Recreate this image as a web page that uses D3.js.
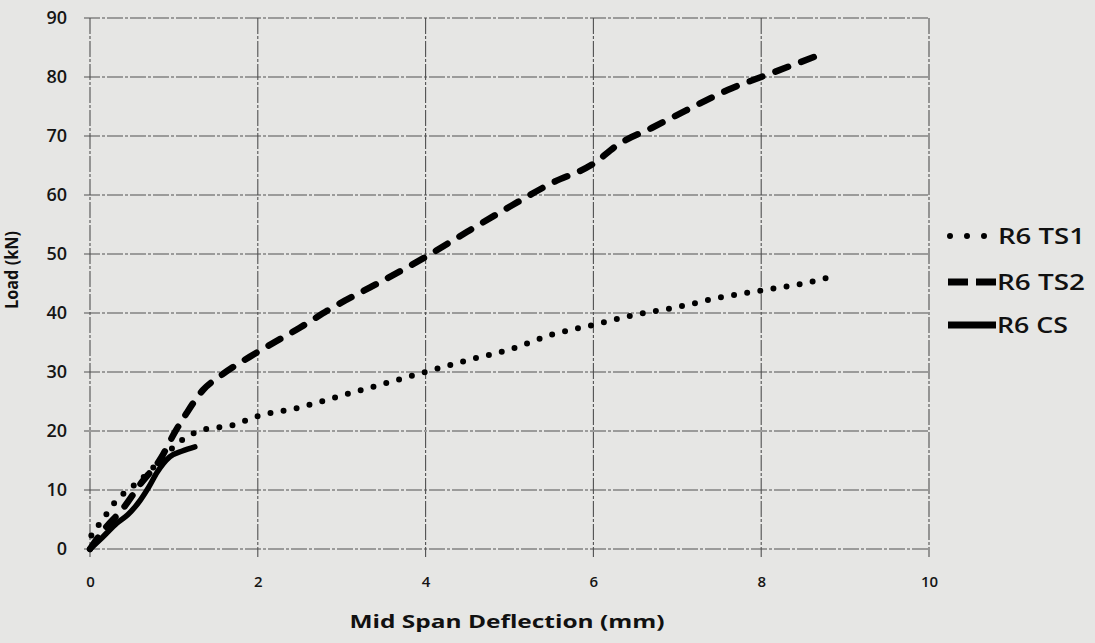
<!DOCTYPE html>
<html>
<head>
<meta charset="UTF-8">
<script src="https://cdn.jsdelivr.net/npm/d3@7"></script>
<style>
  body { margin: 0; background: #e6e6e4; }
  svg { display: block; }
</style>
</head>
<body>
<div id="chart"></div>
<script>
// deflection (mm), load (kN)
const ts1_x = [0, 0.02, 0.1, 0.2, 0.3, 0.5, 0.7, 0.9, 1.1, 1.3, 1.7, 2.0, 2.5, 3.0, 3.5, 4.0, 4.5, 5.0, 5.5, 6.0, 6.5, 7.0, 7.5, 8.0, 8.5, 8.8]
const ts1_y = [0, 2.5, 4, 6, 8, 10.5, 13, 16, 18.5, 20, 21, 22.5, 24, 26, 28, 30, 32, 33.8, 36.3, 38, 39.7, 41, 42.6, 43.8, 45, 46]

const ts2_x = [0, 0.15, 0.4, 0.6, 0.85, 1.0, 1.15, 1.35, 1.55, 2.0, 2.5, 2.9, 3.4, 4.0, 4.5, 5.0, 5.5, 6.0, 6.3, 6.7, 7.1, 7.65, 8.0, 8.65]
const ts2_y = [0, 3, 7, 11, 15.5, 19.5, 23, 27, 29.3, 33.4, 37.5, 41, 44.8, 49.5, 53.8, 58, 62, 65.3, 68.6, 71.4, 74.3, 78.1, 80, 83.5]

const cs_x = [0, 0.15, 0.32, 0.45, 0.6, 0.7, 0.8, 0.95, 1.1, 1.25]
const cs_y = [0, 2, 4.4, 5.8, 8.3, 10.5, 13, 15.6, 16.6, 17.3]

const series_names = ["R6 TS1", "R6 TS2", "R6 CS"]
const x_ticks = [0, 2, 4, 6, 8, 10]
const y_ticks = [0, 10, 20, 30, 40, 50, 60, 70, 80, 90]

const width = 1095
const height = 643
const font = "'Open Sans', sans-serif"

const svg = d3.select("#chart")
    .append("svg")
    .attr("width", width)
    .attr("height", height)

const x = d3.scaleLinear().domain([0, 10]).range([90, 929])
const y = d3.scaleLinear().domain([0, 90]).range([549, 18])

// grid
svg.append("g")
    .selectAll("line")
    .data(y_ticks)
    .enter()
    .append("line")
    .attr("x1", x(0) - 6)
    .attr("x2", x(10))
    .attr("y1", d => y(d))
    .attr("y2", d => y(d))
    .attr("stroke", "#505050")
    .attr("stroke-width", 1.1)
    .attr("stroke-dasharray", "16 2 3 2")

svg.append("g")
    .selectAll("line")
    .data(x_ticks)
    .enter()
    .append("line")
    .attr("x1", d => x(d))
    .attr("x2", d => x(d))
    .attr("y1", y(90))
    .attr("y2", y(0) + 8)
    .attr("stroke", "#505050")
    .attr("stroke-width", 1.1)
    .attr("stroke-dasharray", "16 2 3 2")

// tick labels via axes, domain lines hidden
const yAxis = svg.append("g")
    .attr("transform", `translate(${x(0) - 20},0)`)
    .call(d3.axisLeft(y).tickValues(y_ticks).tickSize(0))
yAxis.select(".domain").remove()
yAxis.selectAll("text")
    .style("font-family", font)
    .style("font-size", "18px")
    .style("font-weight", "600")
    .attr("fill", "#151515")

const xAxis = svg.append("g")
    .attr("transform", `translate(0,${y(0) + 24})`)
    .call(d3.axisBottom(x).tickValues(x_ticks).tickSize(0))
xAxis.select(".domain").remove()
xAxis.selectAll("text")
    .style("font-family", font)
    .style("font-size", "15px")
    .style("font-weight", "600")
    .attr("fill", "#151515")

// axis titles
svg.append("text")
    .attr("x", 507)
    .attr("y", 628)
    .attr("text-anchor", "middle")
    .attr("textLength", 315)
    .attr("lengthAdjust", "spacingAndGlyphs")
    .style("font-family", font)
    .style("font-size", "18px")
    .style("font-weight", "bold")
    .attr("fill", "#111")
    .text("Mid Span Deflection (mm)")

svg.append("text")
    .attr("transform", "translate(18,270) rotate(-90)")
    .attr("text-anchor", "middle")
    .attr("textLength", 78)
    .attr("lengthAdjust", "spacingAndGlyphs")
    .style("font-family", font)
    .style("font-size", "18px")
    .style("font-weight", "bold")
    .attr("fill", "#111")
    .text("Load (kN)")

// series
const styles = [
    { width: 6, dash: "0 13.3" },
    { width: 6.5, dash: "13.5 14" },
    { width: 5.5, dash: null }
]
const all_series = [
    d3.zip(ts1_x, ts1_y),
    d3.zip(ts2_x, ts2_y),
    d3.zip(cs_x, cs_y)
]

const line = d3.line()
    .x(d => x(d[0]))
    .y(d => y(d[1]))
    .curve(d3.curveMonotoneX)

all_series.forEach((data, i) => {
    svg.append("path")
        .datum(data)
        .attr("d", line)
        .attr("fill", "none")
        .attr("stroke", "#000")
        .attr("stroke-width", styles[i].width)
        .attr("stroke-linecap", "round")
        .attr("stroke-linejoin", "round")
        .attr("stroke-dasharray", styles[i].dash)
})

// legend
const legend_y = [236, 282, 325]
const legend_dash = ["0 17", "20 8", null]
const legend_len = [87, 88, 71]
const legend = svg.append("g")
series_names.forEach((name, i) => {
    legend.append("line")
        .attr("x1", i === 0 ? 950 : 948)
        .attr("x2", i === 0 ? 985 : 996)
        .attr("y1", legend_y[i])
        .attr("y2", legend_y[i])
        .attr("stroke", "#000")
        .attr("stroke-width", i === 0 ? 6 : 7)
        .attr("stroke-linecap", i === 0 ? "round" : "butt")
        .attr("stroke-dasharray", legend_dash[i])
    legend.append("text")
        .attr("x", i === 0 ? 998 : 997)
        .attr("y", legend_y[i] + 8)
        .attr("textLength", legend_len[i])
        .attr("lengthAdjust", "spacingAndGlyphs")
        .style("font-family", font)
        .style("font-size", "22px")
        .style("font-weight", "600")
        .attr("fill", "#111")
        .text(name)
})
</script>
</body>
</html>
